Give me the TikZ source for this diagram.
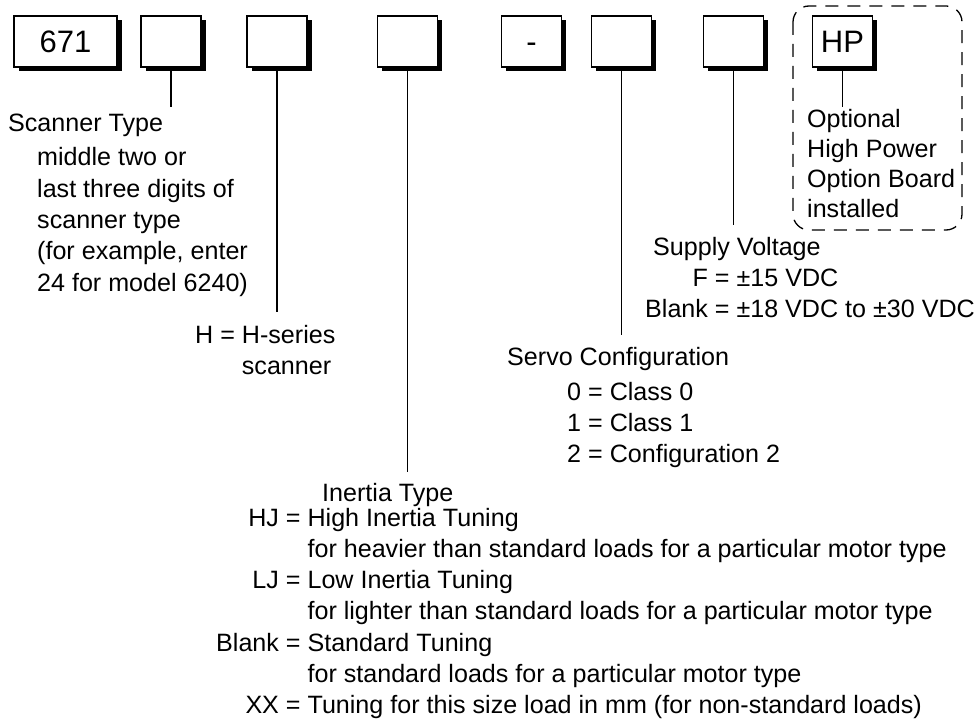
\documentclass[tikz,border=0pt]{standalone}
\usepackage{fontspec}
\setmainfont{Liberation Sans}
\usetikzlibrary{positioning,shadows}

\begin{document}
\begin{tikzpicture}[
  x=1pt, y=-1pt,
  digit/.style={
    draw=black,
    line width=1.1pt,
    fill=white,
    minimum width=60pt,
    minimum height=51pt,
    inner sep=0pt,
    outer sep=0pt,
    text height=23pt,
    text depth=0pt,
    font=\fontsize{31}{36}\selectfont,
    drop shadow={shadow xshift=4.5pt, shadow yshift=-4.5pt, fill=black, opacity=1},
  },
  lead/.style={line width=1.3pt, black},
  note/.style={anchor=base west, inner sep=0pt, font=\fontsize{25.1}{31.3}\selectfont},
  optframe/.style={line width=1.3pt, dash pattern=on 13pt off 9pt, rounded corners=16pt},
]
  \useasboundingbox (0,0) rectangle (976,719);

  % code boxes
  \node[digit, minimum width=103pt] (box1) at (65.5,41.5) {671};
  \node[digit, right=24pt of box1] (box2) {};
  \node[digit, right=46pt of box2] (box3) {};
  \node[digit, right=70.5pt of box3] (box4) {};
  \node[digit, right=64pt of box4] (dash) {-};
  \node[digit, right=30pt of dash] (box6) {};
  \node[digit, right=52pt of box6] (box7) {};
  \node[digit, right=49pt of box7] (hp) {HP};

  % optional frame
  \draw[optframe] (793,6) rectangle (962,230);

  % ends of the leaders
  \coordinate (e2) at (171,107);
  \coordinate (e3) at (277,312);
  \coordinate (e4) at (407.5,472);
  \coordinate (e6) at (621.5,335);
  \coordinate (e7) at (733.5,225);
  \coordinate (ehp) at (842.5,107);

  \draw[lead] (box2.south) -- (e2);
  \draw[lead] (box3.south) -- (e3);
  \draw[lead] (box4.south) -- (e4);
  \draw[lead] (box6.south) -- (e6);
  \draw[lead] (box7.south) -- (e7);
  \draw[lead] (hp.south) -- (ehp);

  % explanations
  \node[note] (scantitle) at (8,132) {Scanner Type};
  \node[note] (scanbody) at (37,166) {\begin{tabular}[t]{@{}l@{}}
    middle two or\\last three digits of\\scanner type\\(for example, enter\\24 for model 6240)\end{tabular}};

  \node[note] (hser) at (195,343) {\begin{tabular}[t]{@{}r@{\ }l@{}}
    H =&H-series\\&scanner\end{tabular}};

  \node[note] (inertitle) at (322,501) {Inertia Type};
  \node[note] (inerbody) at (216,526) {\begin{tabular}[t]{@{}r@{\ }l@{}}
    HJ =&High Inertia Tuning\\
    &for heavier than standard loads for a particular motor type\\
    LJ =&Low Inertia Tuning\\
    &for lighter than standard loads for a particular motor type\\
    Blank =&Standard Tuning\\
    &for standard loads for a particular motor type\\
    XX =&Tuning for this size load in mm (for non-standard loads)\end{tabular}};

  \node[note] (servotitle) at (507,365) {Servo Configuration};
  \node[note] (servobody) at (567,400) {\begin{tabular}[t]{@{}l@{}}
    0 = Class 0\\1 = Class 1\\2 = Configuration 2\end{tabular}};

  \node[note] (supplytitle) at (653,255) {Supply Voltage};
  \node[note] (supplybody) at (645,286) {\begin{tabular}[t]{@{}r@{\ }l@{}}
    F =&±15 VDC\\Blank =&±18 VDC to ±30 VDC\end{tabular}};

  \node[note, font=\fontsize{25.1}{29.7}\selectfont] (hpnote) at (807,128) {\begin{tabular}[t]{@{}l@{}}
    Optional\\High Power\\Option Board\\installed\end{tabular}};
\end{tikzpicture}
\end{document}
